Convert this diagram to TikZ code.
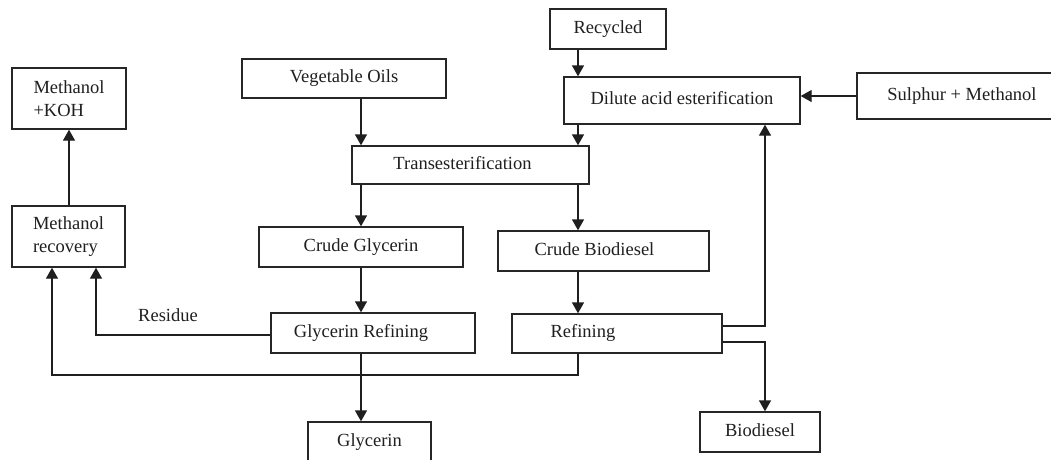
\documentclass[tikz,border=0pt]{standalone}
\usepackage{fontspec}
\setmainfont{Liberation Serif}
\usetikzlibrary{arrows.meta}
\begin{document}
\begin{tikzpicture}[x=1pt,y=-1pt,
  box/.style={draw=black!85,line width=1.4pt,rectangle,inner sep=0pt,
    text=black!88,font=\fontsize{18.5}{23.5}\selectfont,
    text height=12.5pt,text depth=4pt},
  ln/.style={draw=black!88,line width=1.4pt},
  arr/.style={ln,-{Triangle[length=11pt,width=12pt]}},
  lbl/.style={text=black!88,font=\fontsize{18.5}{23.5}\selectfont,inner sep=0pt}]
\useasboundingbox (0,0) rectangle (1051,459);
\clip (0,0) rectangle (1051,459);
\fill[white] (0,0) rectangle (1051,459);
% boxes
\node[box,minimum width=114pt,minimum height=61pt,align=left,text height=,text depth=] (koh) at (69,98.5) {Methanol\\+KOH};
\node[box,minimum width=113pt,minimum height=61pt,align=left,text height=,text depth=] (mrec) at (68.5,236.5) {Methanol\\recovery};
\node[box,minimum width=204pt,minimum height=39pt] (veg) at (344,78.5) {Vegetable Oils};
\node[box,minimum width=237pt,minimum height=38pt] (trans) at (470.5,165) {Transesterification\hspace*{16pt}};
\node[box,minimum width=116pt,minimum height=40pt] (recyc) at (608,29) {Recycled};
\node[box,minimum width=236pt,minimum height=47pt] (dilute) at (682,100.5) {Dilute acid esterification};
\node[box,minimum width=210pt,minimum height=46pt] (sulph) at (962,96) {Sulphur + Methanol};
\node[box,minimum width=204pt,minimum height=40pt] (cglyc) at (361,247) {Crude Glycerin};
\node[box,minimum width=211pt,minimum height=40pt] (cbio) at (603.5,251) {Crude Biodiesel\hspace*{18pt}};
\node[box,minimum width=204pt,minimum height=40pt] (gref) at (373,333) {Glycerin Refining\hspace*{24pt}};
\node[box,minimum width=210pt,minimum height=39pt] (refin) at (617,333.5) {Refining\hspace*{68pt}};
\node[box,minimum width=120pt,minimum height=40pt] (biod) at (760,432) {Biodiesel};
\node[box,minimum width=123pt,minimum height=40pt] (glyc) at (369.5,442) {Glycerin};
\node[lbl] (resid) at (168,315) {Residue};
% helper coordinates
\coordinate (xr) at (578,0);
\coordinate (xv) at (765,0);
\coordinate (xres) at (96,0);
\coordinate (xbot) at (52,0);
\coordinate (ybot) at (0,375);
% connectors
\draw[arr] (mrec.north -| koh.south) -- (koh.south);
\draw[arr] (veg.south -| cglyc.north) -- (trans.north -| cglyc.north);
\draw[arr] (recyc.south -| xr) -- (dilute.north -| xr);
\draw[arr] (dilute.south -| xr) -- (trans.north -| xr);
\draw[arr] (sulph.west) -- (sulph.west -| dilute.east);
\draw[arr] (trans.south -| cglyc.north) -- (cglyc.north);
\draw[arr] (trans.south -| xr) -- (cbio.north -| xr);
\draw[arr] (cglyc.south) -- (gref.north -| cglyc.south);
\draw[arr] (cbio.south -| xr) -- (refin.north -| xr);
\draw[arr] ([yshift=7.5pt]refin.east) -| (dilute.south -| xv);
\draw[arr] ([yshift=-8.5pt]refin.east) -| (biod.north -| xv);
\draw[arr] ([yshift=-2pt]gref.west) -| (mrec.south -| xres);
\draw[arr] (refin.south -| xr) |- (ybot -| xbot) -- (mrec.south -| xbot);
\draw[arr] (gref.south -| cglyc.south) -- (glyc.north -| cglyc.south);
\end{tikzpicture}
\end{document}
